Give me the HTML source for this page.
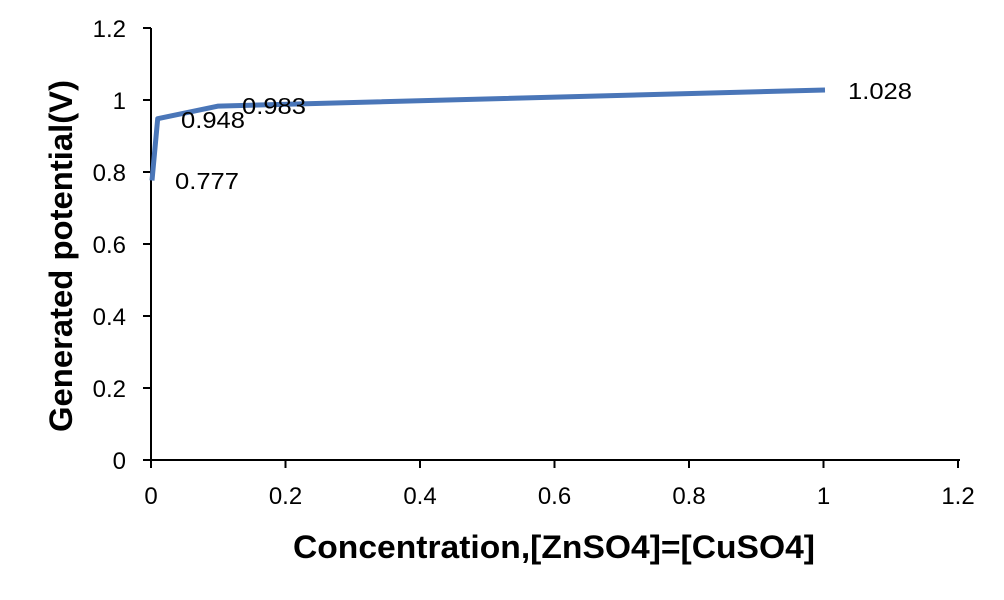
<!DOCTYPE html>
<html><head><style>
html,body{margin:0;padding:0;background:#fff;}
svg{display:block;font-family:"Liberation Sans",sans-serif;}
</style></head><body>
<svg width="1004" height="600" viewBox="0 0 1004 600">
<g stroke="#000" stroke-width="2">
<line x1="151" y1="28" x2="151" y2="460"/>
<line x1="143" y1="460" x2="960" y2="460"/>
<line x1="143" y1="28" x2="151" y2="28"/>
<line x1="143" y1="100" x2="151" y2="100"/>
<line x1="143" y1="172" x2="151" y2="172"/>
<line x1="143" y1="244" x2="151" y2="244"/>
<line x1="143" y1="316" x2="151" y2="316"/>
<line x1="143" y1="388" x2="151" y2="388"/>
<line x1="151" y1="460" x2="151" y2="468"/>
<line x1="285.5" y1="460" x2="285.5" y2="468"/>
<line x1="420" y1="460" x2="420" y2="468"/>
<line x1="554.5" y1="460" x2="554.5" y2="468"/>
<line x1="689" y1="460" x2="689" y2="468"/>
<line x1="823.5" y1="460" x2="823.5" y2="468"/>
<line x1="958" y1="460" x2="958" y2="468"/>
</g>
<g font-size="24" fill="#000" text-anchor="end">
<text x="126" y="37">1.2</text>
<text x="126" y="109">1</text>
<text x="126" y="181">0.8</text>
<text x="126" y="253">0.6</text>
<text x="126" y="325">0.4</text>
<text x="126" y="397">0.2</text>
<text x="126" y="469">0</text>
</g>
<g font-size="24" fill="#000" text-anchor="middle">
<text x="151" y="504">0</text>
<text x="285.5" y="504">0.2</text>
<text x="420" y="504">0.4</text>
<text x="554.5" y="504">0.6</text>
<text x="689" y="504">0.8</text>
<text x="823.5" y="504">1</text>
<text x="958" y="504">1.2</text>
</g>
<polyline points="152,180.5 157.7,118.7 218.3,106.1 825,90" fill="none" stroke="#4a76b8" stroke-width="5" stroke-linejoin="round"/>
<g font-size="23" fill="#000">
<text x="175" y="189" textLength="64" lengthAdjust="spacingAndGlyphs">0.777</text>
<text x="181" y="128" textLength="64" lengthAdjust="spacingAndGlyphs">0.948</text>
<text x="242" y="114" textLength="64" lengthAdjust="spacingAndGlyphs">0.983</text>
<text x="848" y="99" textLength="64" lengthAdjust="spacingAndGlyphs">1.028</text>
</g>
<text x="293" y="558" font-size="32" font-weight="bold" textLength="522" lengthAdjust="spacingAndGlyphs">Concentration,[ZnSO4]=[CuSO4]</text>
<text transform="translate(72,432) rotate(-90)" font-size="32" font-weight="bold" textLength="352" lengthAdjust="spacingAndGlyphs">Generated potential(V)</text>
</svg>
</body></html>
